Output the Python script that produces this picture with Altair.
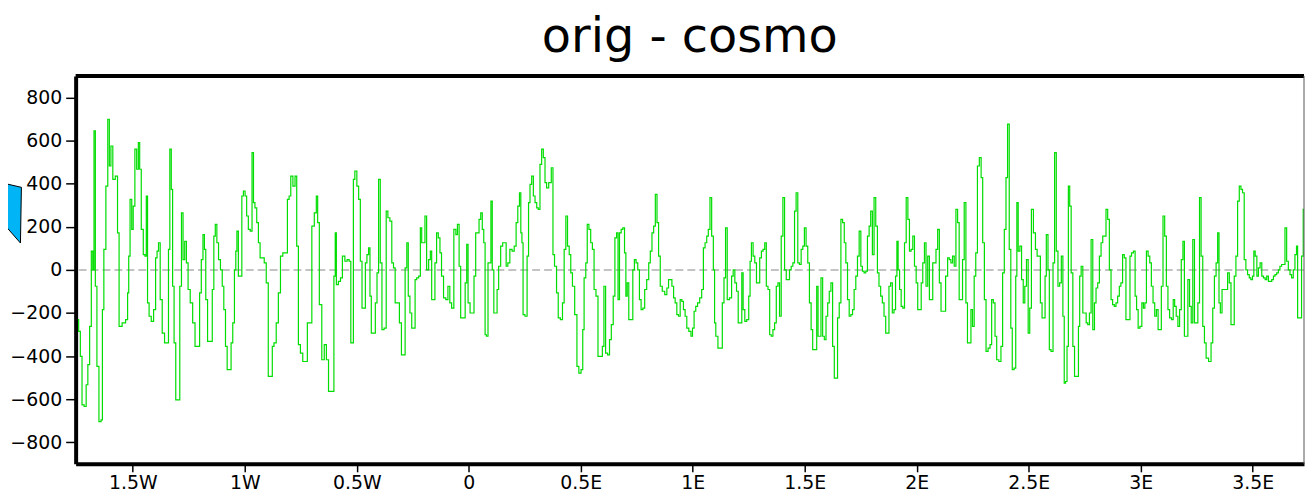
import altair as alt
import pandas as pd

# ---- data: longitude (deg, negative = W) and difference value ----
lon_1 = [-1.745,-1.738,-1.730,-1.723,-1.711,-1.705,-1.696,-1.689,-1.681,-1.676,
         -1.670,-1.664,-1.656,-1.646,-1.637,-1.634,-1.624,-1.616,-1.607,-1.602,
         -1.593,-1.585,-1.571,-1.565,-1.557,-1.538,-1.526,-1.520,-1.516,-1.508,
         -1.501,-1.495,-1.486,-1.479,-1.471,-1.467,-1.457,-1.449,-1.442,-1.437,
         -1.431,-1.423,-1.412,-1.402,-1.394,-1.389,-1.381,-1.374,-1.363,-1.353,
         -1.343,-1.338,-1.331,-1.325,-1.319,-1.312,-1.304,-1.294,-1.286,-1.279,
         -1.272,-1.264,-1.257,-1.249,-1.238,-1.227,-1.217,-1.205,-1.198,-1.190,
         -1.183,-1.177,-1.171,-1.161,-1.149,-1.141,-1.135,-1.128,-1.121,-1.113,
         -1.104,-1.097,-1.090,-1.082,-1.075,-1.065,-1.057,-1.050,-1.042,-1.038,
         -1.032,-1.025,-1.016,-1.010,-1.002,-0.995,-0.988,-0.980,-0.971,-0.964,
         -0.958,-0.951,-0.942,-0.936,-0.927,-0.917,-0.909,-0.899,-0.891,-0.880,
         -0.874,-0.865,-0.854,-0.846,-0.835,-0.825,-0.813,-0.806,-0.798,-0.791,
         -0.779,-0.772,-0.764,-0.757,-0.746,-0.736,-0.724,-0.717,-0.706,-0.695,
         -0.684,-0.677,-0.672,-0.662,-0.650,-0.640,-0.631,-0.621,-0.606,-0.598,
         -0.594,-0.588,-0.576,-0.569,-0.559,-0.547,-0.539,-0.529,-0.524,-0.517,
         -0.513,-0.504,-0.495,-0.488,-0.480,-0.473,-0.465,-0.458,-0.451,-0.443,
         -0.439,-0.431,-0.421,-0.413,-0.406,-0.399,-0.391,-0.384,-0.372,-0.365,
         -0.357,-0.347,-0.340,-0.332,-0.325]
diff_1 = [-231,-285,-401,-626,-634,-533,-440,-262,87,0,
          645,-76,-448,-704,-696,-184,95,389,699,482,
          575,420,435,172,-262,-246,-231,-107,64,327,
          188,296,560,467,591,467,188,71,64,343,
          -153,-215,-239,-184,56,87,126,-138,-293,-339,
          -339,95,560,374,-76,-339,-603,-603,-76,265,
          48,133,33,-91,-153,-246,-355,-355,-107,48,
          164,95,-138,-332,-332,-91,157,211,126,48,
          0,-76,-184,-355,-463,-463,-339,-246,0,87,
          180,-29,-29,343,366,343,250,188,180,544,
          312,288,219,126,56,56,33,-60,-494,-494,
          -355,-339,-246,-107,64,79,79,327,343,435,
          389,435,110,-347,-386,-425,-425,-246,-246,203,
          265,343,219,-161,-417,-347,-417,-564,-564,-29,
          172,-68,-53,-37,64,40,48,40,-339,-339,
          420,459,389,327,40,-177,-177,33,71,102,
          -122,-293,-293,-153,-14,420,33,-277,-270,273,
          242,226,33,9,-153]

lon_2 = [-0.313,-0.306,-0.295,-0.288,-0.280,-0.273,-0.267,-0.258,-0.251,-0.243,
         -0.236,-0.229,-0.218,-0.214,-0.206,-0.199,-0.192,-0.184,-0.174,-0.169,
         -0.162,-0.155,-0.147,-0.140,-0.132,-0.125,-0.118,-0.107,-0.098,-0.088,
         -0.081,-0.072,-0.061,-0.054,-0.047,-0.039,-0.033,-0.021,-0.011,-0.007,
         0.001,0.011,0.020,0.027,0.035,0.042,0.050,0.057,0.064,0.070,
         0.076,0.082,0.090,0.097,0.101,0.109,0.115,0.124,0.129,0.138,
         0.147,0.156,0.163,0.171,0.178,0.189,0.198,0.208,0.215,0.223,
         0.230,0.235,0.240,0.245,0.257,0.264,0.270,0.277,0.285,0.292,
         0.300,0.307,0.314,0.322,0.329,0.337,0.344,0.351,0.363,0.374,
         0.378,0.388,0.396,0.403,0.415,0.422,0.430,0.437,0.445,0.452,
         0.459,0.467,0.479,0.487,0.496,0.507,0.511,0.519,0.526,0.532,
         0.541,0.548,0.556,0.563,0.573,0.581,0.593,0.600,0.607,0.615,
         0.625,0.632,0.641,0.649,0.656,0.664,0.669,0.677,0.684,0.692,
         0.699,0.704,0.711,0.718,0.729,0.736,0.743,0.751,0.758,0.766,
         0.773,0.782,0.789,0.800,0.807,0.814,0.822,0.829,0.837,0.844,
         0.851,0.859,0.869,0.881,0.888,0.896,0.903,0.911,0.918,0.925,
         0.933,0.940,0.948,0.955,0.962,0.970,0.977,0.988,0.996,1.002,
         1.010,1.017,1.026,1.036,1.044,1.051,1.059,1.066,1.073,1.081,
         1.088,1.096]
diff_2 = [-153,-246,-394,-394,9,126,-122,-200,-270,-270,
          -45,-37,-29,195,126,126,250,0,48,87,
          -138,-138,33,172,149,79,-29,-130,-138,-76,
          -153,-177,188,164,211,17,-223,-223,-60,118,
          -153,-200,-200,-29,172,172,234,265,188,126,
          -301,-308,33,33,319,0,-200,-200,-91,17,
          110,126,126,17,33,95,87,110,219,296,
          358,172,126,-208,-215,64,312,397,435,343,
          312,288,281,490,560,521,405,381,405,474,
          71,17,-107,-223,-231,-153,95,250,110,71,
          -14,-76,-208,-448,-479,-463,-277,-37,33,211,
          188,126,95,-91,-122,-401,-401,-355,-76,-386,
          -394,-324,-254,-122,149,172,-138,172,188,195,
          79,-122,-60,-231,-231,0,48,33,0,-138,
          -184,-177,-91,-45,33,87,172,203,350,219,
          64,-76,-99,-115,-84,-45,-45,-76,-130,-153,
          -208,-215,-138,-146,-184,-215,-270,-285,-308,-270,
          -192,-169,-153,-130,-91,102,126,157,188,335,
          157,0]

lon_3 = [1.099,1.107,1.118,1.128,1.136,1.143,1.150,1.158,1.170,1.177,
         1.184,1.192,1.199,1.207,1.217,1.221,1.229,1.236,1.246,1.254,
         1.258,1.266,1.273,1.281,1.288,1.295,1.303,1.310,1.318,1.325,
         1.332,1.340,1.347,1.354,1.362,1.369,1.377,1.384,1.391,1.399,
         1.406,1.414,1.421,1.428,1.436,1.443,1.451,1.458,1.465,1.473,
         1.480,1.488,1.495,1.502,1.510,1.517,1.525,1.532,1.539,1.550,
         1.557,1.562,1.569,1.576,1.584,1.591,1.599,1.606,1.613,1.621,
         1.628,1.636,1.643,1.650,1.658,1.665,1.673,1.680,1.687,1.695,
         1.702,1.710,1.717,1.724,1.732,1.739,1.747,1.754,1.761,1.769,
         1.776,1.784,1.791,1.798,1.806,1.813,1.821,1.828,1.835,1.843,
         1.850,1.858,1.865,1.872,1.880,1.887,1.895,1.902,1.909,1.914,
         1.920,1.927,1.934,1.942,1.949,1.957,1.964,1.971,1.979,1.986,
         1.994,2.001,2.008,2.017,2.023,2.031,2.038,2.045,2.053,2.060,
         2.068,2.075,2.082,2.090,2.097,2.105,2.112,2.124,2.134,2.142,
         2.149,2.156,2.164,2.171,2.179,2.186,2.193,2.201,2.208,2.216,
         2.223,2.230,2.239,2.245,2.253,2.260,2.267,2.275,2.284,2.291,
         2.298,2.306,2.313,2.324,2.331,2.338,2.346,2.353,2.361,2.372,
         2.380,2.387,2.395,2.402,2.409,2.417,2.423,2.430,2.439,2.445,
         2.449,2.457,2.464,2.472,2.479,2.486,2.494,2.501,2.508,2.516]
diff_3 = [-246,-308,-363,-363,-153,-37,195,-138,-130,-29,
          0,-60,-99,-246,-246,-14,-184,-239,-231,-122,
          40,126,64,33,-60,-60,56,87,95,126,
          -76,-91,-301,-308,-277,-246,-76,-60,-215,157,
          335,0,-45,-45,0,17,33,273,358,33,
          25,95,110,195,110,33,-153,-277,-370,-370,
          -76,-308,-308,-37,-308,-324,-215,-153,-99,-60,
          -355,-502,-502,-223,-153,234,219,126,33,-138,
          -215,-208,-184,-91,-29,64,180,17,-6,-14,
          -6,157,203,273,71,335,203,-14,-76,-122,
          -153,-215,-293,-293,-76,-60,-200,-184,-29,133,
          0,-91,-169,-177,126,335,234,87,95,157,
          17,-60,-184,-184,-60,33,126,-76,64,-138,
          -138,33,33,95,188,-60,-192,-192,-29,56,
          48,33,64,17,281,219,-138,-138,48,312,
          -153,-339,-339,-184,-262,-29,79,482,521,428,
          126,-138,-378,-363,-347,-138,-153,-308,-417,-425,
          -355,-14,188,428,676,95,-270,-463,-456,-29,
          312,87,110,-45,-153,-76,48,-293,-177,281]

lon_4 = [2.526,2.534,2.541,2.548,2.556,2.563,2.571,2.575,2.582,2.590,
         2.594,2.605,2.612,2.619,2.627,2.634,2.642,2.649,2.656,2.661,
         2.668,2.674,2.680,2.686,2.693,2.701,2.708,2.719,2.725,2.730,
         2.738,2.745,2.753,2.760,2.767,2.775,2.782,2.790,2.797,2.804,
         2.812,2.819,2.827,2.834,2.841,2.849,2.856,2.864,2.871,2.878,
         2.886,2.893,2.901,2.908,2.915,2.923,2.930,2.938,2.949,2.955,
         2.963,2.972,2.978,2.985,2.992,3.001,3.009,3.015,3.022,3.029,
         3.037,3.044,3.051,3.059,3.066,3.074,3.081,3.088,3.096,3.103,
         3.111,3.118,3.125,3.133,3.142,3.148,3.155,3.162,3.170,3.177,
         3.185,3.192,3.198,3.207,3.214,3.222,3.229,3.236,3.244,3.251,
         3.259,3.266,3.273,3.281,3.288,3.296,3.310,3.318,3.325,3.333,
         3.340,3.347,3.352,3.359,3.367,3.374,3.384,3.392,3.399,3.407,
         3.414,3.421,3.429,3.436,3.444,3.451,3.458,3.466,3.473,3.481,
         3.488,3.495,3.503,3.507,3.515,3.522,3.529,3.537,3.544,3.552,
         3.559,3.566,3.574,3.581,3.589,3.596,3.603,3.611,3.618,3.625,
         3.633,3.640,3.648,3.655,3.663,3.670,3.677,3.685,3.692,3.699,
         3.702,3.714,3.722,3.729]
diff_4 = [172,95,64,64,-153,-223,-223,-29,164,0,
          -370,-378,33,544,87,-76,-60,64,-215,-525,
          -518,-355,389,296,-14,-355,-494,-494,-262,-29,
          17,-200,-200,-246,-254,-200,141,-277,-153,-84,
          -60,64,126,157,157,281,234,0,-138,-161,
          -169,-153,-122,-76,-60,71,56,-231,-231,64,
          79,87,-122,-184,-270,-262,-153,-177,-153,87,
          64,33,-76,-153,-215,-184,-277,-277,-76,250,
          157,-76,-184,-223,-231,-138,-169,-215,-262,-184,
          48,133,-308,-308,-45,-169,-246,141,-246,-246,
          -153,335,64,-262,-339,-409,-425,-339,-177,-29,
          33,172,-153,-200,-91,-91,-91,-14,-60,-254,
          -254,-29,64,319,389,374,358,48,0,-22,
          -37,-45,-29,87,64,-29,9,33,-29,-37,
          -45,-29,-53,-53,-45,-29,-22,-14,0,17,
          25,25,195,40,0,-22,-37,0,71,110,
          -223,-223,64,281]

x_ticks = [-1.5, -1.0, -0.5, 0.0, 0.5, 1.0, 1.5, 2.0, 2.5, 3.0, 3.5]
x_tick_labels = ["1.5W", "1W", "0.5W", "0", "0.5E", "1E", "1.5E", "2E", "2.5E", "3E", "3.5E"]
y_ticks = [-800, -600, -400, -200, 0, 200, 400, 600, 800]
title_text = "orig - cosmo"

# ---- build table ----
df = pd.DataFrame({
    "lon": lon_1 + lon_2 + lon_3 + lon_4,
    "diff": diff_1 + diff_2 + diff_3 + diff_4,
})

W, H = 1235, 390
XDOM = [-1.755, 3.729]
YDOM = [-900, 900]
FONT = "DejaVu Sans"

label_expr = "''"
for v, lab in reversed(list(zip(x_ticks, x_tick_labels))):
    label_expr = f"datum.value == {v} ? '{lab}' : ({label_expr})"

xscale = alt.Scale(domain=XDOM, nice=False, zero=False)
yscale = alt.Scale(domain=YDOM, nice=False, zero=False)

line = alt.Chart(df).mark_line(color="#00dd00", strokeWidth=1.2, clip=True,
                               interpolate="step").encode(
    x=alt.X("lon:Q", scale=xscale,
            axis=alt.Axis(values=x_ticks, labelExpr=label_expr, title=None, grid=False,
                          tickSize=8, tickWidth=1.5, tickColor="black",
                          domainColor="black", domainWidth=4,
                          labelFont=FONT, labelFontSize=19, labelColor="black",
                          labelPadding=2, labelFlush=False)),
    y=alt.Y("diff:Q", scale=yscale,
            axis=alt.Axis(values=y_ticks, title=None, grid=False,
                          tickSize=10, tickWidth=1.5, tickColor="black",
                          domainColor="black", domainWidth=4,
                          labelFont=FONT, labelFontSize=19, labelColor="black",
                          labelPadding=4)),
)

one = pd.DataFrame({"diff": [0]})

zero_rule = alt.Chart(one).mark_rule(color="#b0b0b0", strokeDash=[8, 4], strokeWidth=1.5).encode(
    y=alt.Y("diff:Q", scale=yscale)
)

top_border = alt.Chart(one).mark_rule(color="black", strokeWidth=4).encode(
    x=alt.value(0), x2=alt.value(W), y=alt.value(0)
)
right_border = alt.Chart(one).mark_rule(color="#555555", strokeWidth=1).encode(
    x=alt.value(W), y=alt.value(0), y2=alt.value(H)
)

arrow_path = "M -0.352 -1 L 0.352 -0.836 L 0.320 1 L -0.139 0.475 L -0.352 0.607 Z"
arrow = alt.Chart(one).mark_point(
    shape=arrow_path, filled=True, fill="#00b4f5", stroke="black", strokeWidth=1,
    size=3721, opacity=1, fillOpacity=1, strokeOpacity=1
).encode(x=alt.value(-65.25), y=alt.value(137.5))

chart = alt.layer(zero_rule, line, top_border, right_border, arrow).properties(
    width=W, height=H,
    title=alt.TitleParams(title_text, font=FONT, fontSize=48, fontWeight="normal",
                          color="black", anchor="middle", offset=12),
    autosize=alt.AutoSizeParams(type="none"),
    padding={"left": 68, "top": 67, "right": 2, "bottom": 28},
    background="white",
).configure_view(stroke=None)

chart.save("out.html", embed_options={"renderer": "svg", "actions": False})
